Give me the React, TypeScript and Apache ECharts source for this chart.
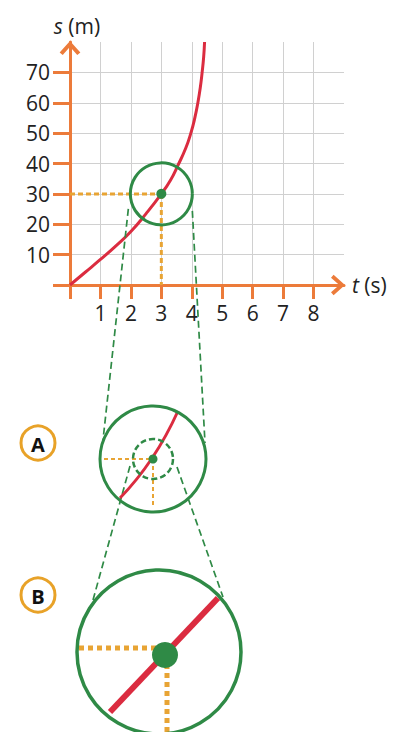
import React, { useEffect, useRef } from "react";
import * as echarts from "echarts";

// ---- data ----
const curveT = [0, 0.5, 1, 1.5, 2, 2.5, 3, 3.3, 3.55, 3.8, 3.97, 4.1, 4.2, 4.28, 4.34, 4.39, 4.42];
const curveS = [0, 4.2, 8.4, 12.8, 17.6, 23.5, 30, 34.5, 39.5, 45, 50, 55, 60, 65, 70, 75, 80];
const xTickValues = [0, 1, 2, 3, 4, 5, 6, 7, 8];
const xLabelValues = [1, 2, 3, 4, 5, 6, 7, 8];
const yTickValues = [0, 10, 20, 30, 40, 50, 60, 70];
const yLabelValues = [10, 20, 30, 40, 50, 60, 70];
const focusPoint = [3, 30];
const xRange = [0, 9];
const yRange = [0, 80];

const ORANGE = "#ec7b3a";
const RED = "#db2c40";
const GREEN = "#2f8a46";
const DASH = "#e8a434";
const FONT = "'Open Sans', 'Noto Sans', sans-serif";

const chevron = "path://M0,11 L10,0 L20,11 L17,13.5 L10,5.5 L3,13.5 Z";

export default function App() {
  const ref = useRef<HTMLDivElement>(null);
  useEffect(() => {
    document.body.style.margin = "0";
    if (!ref.current) return;
    const chart = echarts.init(ref.current, null, { renderer: "svg" });
    const curve = curveT.map((t, i) => [t, curveS[i]]);
    chart.setOption({
      animation: false,
      backgroundColor: "#ffffff",
      grid: { left: 70, top: 42, right: 56, bottom: 447, containLabel: false },
      xAxis: {
        type: "value",
        min: xRange[0],
        max: xRange[1],
        interval: 1,
        name: "{i|t} (s)",
        nameLocation: "end",
        nameGap: 8,
        nameTextStyle: {
          fontFamily: FONT,
          fontSize: 21,
          color: "#222",
          verticalAlign: "middle",
          rich: { i: { fontStyle: "italic", fontFamily: FONT, fontSize: 21, color: "#222" } },
        },
        axisLine: {
          onZero: false,
          lineStyle: { color: ORANGE, width: 3 },
          symbol: ["none", chevron],
          symbolSize: [22, 14],
          symbolOffset: [0, -6],
        },
        axisTick: { show: true, length: 14, customValues: xTickValues, lineStyle: { color: ORANGE, width: 3 } },
        axisLabel: {
          customValues: xLabelValues,
          margin: 17,
          fontFamily: FONT,
          fontSize: 21,
          color: "#222",
        },
        splitLine: { show: true, lineStyle: { color: "#d0d0d0", width: 1 } },
      },
      yAxis: {
        type: "value",
        min: yRange[0],
        max: yRange[1],
        interval: 10,
        name: "{i|s} (m)",
        nameLocation: "end",
        nameGap: 6,
        nameTextStyle: {
          fontFamily: FONT,
          fontSize: 21,
          color: "#222",
          padding: [0, 0, 0, 14],
          rich: { i: { fontStyle: "italic", fontFamily: FONT, fontSize: 21, color: "#222" } },
        },
        axisLine: {
          onZero: false,
          lineStyle: { color: ORANGE, width: 3 },
          symbol: ["none", chevron],
          symbolSize: [22, 14],
          symbolOffset: [0, -6],
        },
        axisTick: { show: true, length: 17, customValues: yTickValues, lineStyle: { color: ORANGE, width: 3 } },
        axisLabel: {
          customValues: yLabelValues,
          margin: 20,
          fontFamily: FONT,
          fontSize: 21,
          color: "#222",
        },
        splitLine: { show: true, lineStyle: { color: "#d0d0d0", width: 1 } },
      },
      series: [
        {
          type: "line",
          data: [[0, focusPoint[1]], focusPoint],
          symbol: "none",
          lineStyle: { color: DASH, width: 3, type: [5, 3] },
          z: 3,
        },
        {
          type: "line",
          data: [focusPoint, [focusPoint[0], 0]],
          symbol: "none",
          lineStyle: { color: DASH, width: 3, type: [5, 3] },
          z: 3,
        },
        {
          type: "line",
          data: curve,
          smooth: 0.5,
          symbol: "none",
          lineStyle: { color: RED, width: 3 },
          z: 4,
        },
        {
          type: "scatter",
          data: [focusPoint],
          symbol: "circle",
          symbolSize: 62,
          itemStyle: { color: "rgba(0,0,0,0)", borderColor: GREEN, borderWidth: 3, opacity: 1 },
          z: 5,
        },
        {
          type: "scatter",
          data: [focusPoint],
          symbol: "circle",
          symbolSize: 10,
          itemStyle: { color: GREEN, opacity: 1 },
          z: 6,
        },
      ],
    });

    const c = chart.convertToPixel({ gridIndex: 0 }, focusPoint) as number[];
    const greenDash = { stroke: GREEN, lineWidth: 1.7, lineDash: [7, 4] };
    const A = { cx: 153, cy: 459, r: 53, ri: 20 };
    const B = { cx: 159, cy: 652, r: 82 };
    const badge = (cy: number, label: string) => [
      { type: "circle", shape: { cx: 38, cy, r: 17 }, style: { fill: "#fff", stroke: "#e8a228", lineWidth: 3 }, z: 10 },
      {
        type: "text",
        x: 38,
        y: cy + 1,
        style: { text: label, fill: "#111", font: `bold 20px ${FONT}`, align: "center", verticalAlign: "middle" },
        z: 11,
      },
    ];
    chart.setOption({
      graphic: [
        // magnifier guide lines
        { type: "line", shape: { x1: c[0] - 33, y1: c[1] + 15, x2: A.cx - 50, y2: A.cy - 19 }, style: greenDash, z: 8 },
        { type: "line", shape: { x1: c[0] + 31, y1: c[1] + 17, x2: A.cx + 52, y2: A.cy - 16 }, style: greenDash, z: 8 },
        { type: "line", shape: { x1: A.cx - 23, y1: A.cy + 7, x2: B.cx - 66, y2: B.cy - 52 }, style: greenDash, z: 8 },
        { type: "line", shape: { x1: A.cx + 24, y1: A.cy + 8, x2: B.cx + 64, y2: B.cy - 55 }, style: greenDash, z: 8 },
        // inset A
        { type: "line", shape: { x1: A.cx - 49, y1: A.cy, x2: A.cx, y2: A.cy }, style: { stroke: DASH, lineWidth: 2, lineDash: [4, 3] }, z: 9 },
        { type: "line", shape: { x1: A.cx, y1: A.cy, x2: A.cx, y2: A.cy + 49 }, style: { stroke: DASH, lineWidth: 2, lineDash: [4, 3] }, z: 9 },
        {
          type: "bezierCurve",
          shape: { x1: A.cx - 33, y1: A.cy + 39, cpx1: A.cx + 2, cpy1: A.cy + 3, x2: A.cx + 25, y2: A.cy - 48 },
          style: { stroke: RED, lineWidth: 3, fill: "none" },
          z: 10,
        },
        { type: "circle", shape: { cx: A.cx, cy: A.cy, r: A.ri }, style: { fill: "none", stroke: GREEN, lineWidth: 2.5, lineDash: [6, 3] }, z: 11 },
        { type: "circle", shape: { cx: A.cx, cy: A.cy, r: A.r }, style: { fill: "none", stroke: GREEN, lineWidth: 3 }, z: 11 },
        { type: "circle", shape: { cx: A.cx, cy: A.cy, r: 4.5 }, style: { fill: GREEN }, z: 12 },
        // inset B
        { type: "line", shape: { x1: B.cx - 80, y1: B.cy - 4, x2: B.cx + 6, y2: B.cy - 4 }, style: { stroke: DASH, lineWidth: 5, lineDash: [5, 4] }, z: 9 },
        { type: "line", shape: { x1: B.cx + 8, y1: B.cy + 3, x2: B.cx + 8, y2: B.cy + 90 }, style: { stroke: DASH, lineWidth: 5, lineDash: [5, 4] }, z: 9 },
        { type: "line", shape: { x1: B.cx - 49, y1: B.cy + 60, x2: B.cx + 59, y2: B.cy - 54 }, style: { stroke: RED, lineWidth: 6 }, z: 10 },
        { type: "circle", shape: { cx: B.cx, cy: B.cy, r: B.r }, style: { fill: "none", stroke: GREEN, lineWidth: 3.5 }, z: 11 },
        { type: "circle", shape: { cx: B.cx + 6, cy: B.cy + 3, r: 13 }, style: { fill: GREEN }, z: 12 },
        ...badge(443, "A"),
        ...badge(595, "B"),
      ],
    });
    return () => chart.dispose();
  }, []);
  return <div ref={ref} style={{ width: 400, height: 732 }} />;
}
